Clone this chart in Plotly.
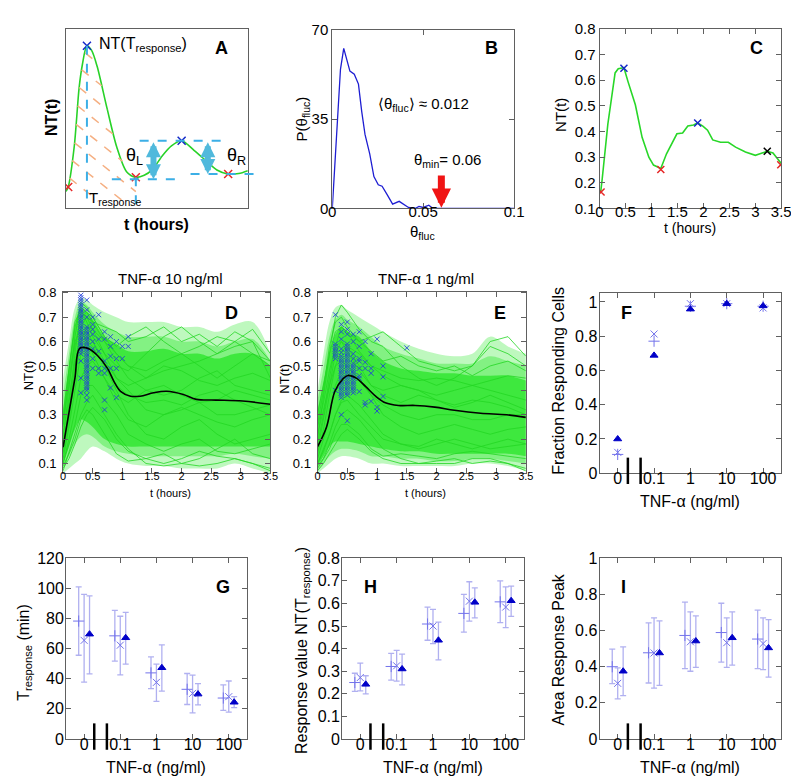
import numpy as np
import plotly.graph_objects as go

W, H = 799, 783
FONT = "Liberation Sans, Arial, Helvetica, sans-serif"

# ====================== DATA ======================
# Panel A: schematic single-cell trace (axis units 0..1)
a_t = [0.0, 0.012, 0.045, 0.072, 0.09, 0.115, 0.14, 0.171, 0.225, 0.279, 0.333, 0.384,
       0.43, 0.477, 0.53, 0.58, 0.636, 0.704, 0.776, 0.83, 0.892, 0.95, 1.0]
a_nt = [0.09, 0.115, 0.34, 0.67, 0.80, 0.905, 0.88, 0.79, 0.557, 0.338, 0.20, 0.169,
        0.18, 0.215, 0.29, 0.345, 0.373, 0.32, 0.256, 0.21, 0.187, 0.19, 0.206]
a_red_t = [0.012, 0.384, 0.892]
a_red_v = [0.115, 0.169, 0.187]
a_blue_t = [0.115, 0.636]
a_blue_v = [0.905, 0.373]

# Panel B: distribution of theta_fluc
b_theta = [0, 0.0031, 0.0045, 0.0063, 0.0079, 0.0097, 0.0121, 0.0144, 0.0162, 0.018, 0.0206,
           0.0229, 0.0253, 0.0274, 0.0301, 0.0332, 0.0368, 0.0392, 0.0419, 0.0455, 0.0477,
           0.05, 0.0531, 0.0554, 0.1]
b_p = [0, 36.7, 54.5, 62.7, 58.3, 53.8, 52.6, 48.7, 37.9, 29, 21.4, 12.5, 9.3, 8.7, 5.5,
       1.7, 2.8, 1.7, 0.4, 0, 0.8, 0.4, 1.3, 0, 0]
b_theta_min = 0.06

# Panel C: example cell
c_t = [0.02, 0.05, 0.16, 0.3, 0.36, 0.47, 0.55, 0.69, 0.82, 0.95, 1.04, 1.18, 1.29, 1.41, 1.49,
       1.6, 1.7, 1.81, 1.89, 1.99, 2.08, 2.18, 2.33, 2.48, 2.62, 2.81, 3.0, 3.09, 3.23, 3.34, 3.5]
c_nt = [0.161, 0.212, 0.428, 0.628, 0.644, 0.648, 0.593, 0.504, 0.377, 0.30, 0.269, 0.256,
        0.313, 0.357, 0.391, 0.394, 0.421, 0.425, 0.433, 0.421, 0.405, 0.367, 0.358, 0.358,
        0.339, 0.32, 0.307, 0.313, 0.323, 0.316, 0.275]
c_red_t = [0.03, 1.18, 3.49]
c_red_v = [0.164, 0.252, 0.27]
c_blue_t = [0.47, 1.89]
c_blue_v = [0.646, 0.433]
c_black_t = [3.23]
c_black_v = [0.323]

# Panels D / E: population traces
tr_t = [0, 0.1, 0.2, 0.3, 0.4, 0.5, 0.7, 0.9, 1.1, 1.4, 1.7, 2.0, 2.3, 2.6, 2.9, 3.2, 3.5]
d_outer_lo = [0.06, 0.08, 0.10, 0.12, 0.15, 0.17, 0.15, 0.12, 0.10, 0.09, 0.09, 0.08, 0.08, 0.08, 0.10, 0.08, 0.06]
d_outer_hi = [0.45, 0.60, 0.74, 0.78, 0.77, 0.75, 0.72, 0.70, 0.68, 0.68, 0.68, 0.66, 0.66, 0.64, 0.67, 0.68, 0.55]
d_mid_lo = [0.08, 0.13, 0.18, 0.21, 0.22, 0.21, 0.17, 0.15, 0.14, 0.13, 0.13, 0.13, 0.13, 0.13, 0.14, 0.13, 0.12]
d_mid_hi = [0.38, 0.55, 0.70, 0.76, 0.75, 0.72, 0.67, 0.64, 0.62, 0.62, 0.62, 0.60, 0.60, 0.58, 0.60, 0.61, 0.52]
d_core_lo = [0.10, 0.17, 0.24, 0.28, 0.27, 0.25, 0.20, 0.18, 0.17, 0.17, 0.17, 0.17, 0.17, 0.17, 0.17, 0.17, 0.17]
d_core_hi = [0.32, 0.50, 0.66, 0.74, 0.72, 0.69, 0.62, 0.59, 0.56, 0.56, 0.57, 0.55, 0.55, 0.53, 0.55, 0.55, 0.50]
d_cells = [
    [0.15, 0.35, 0.55, 0.72, 0.70, 0.65, 0.55, 0.45, 0.42, 0.45, 0.50, 0.48, 0.44, 0.42, 0.45, 0.47, 0.44],
    [0.10, 0.20, 0.32, 0.45, 0.50, 0.52, 0.45, 0.35, 0.28, 0.25, 0.30, 0.33, 0.30, 0.27, 0.25, 0.28, 0.30],
    [0.20, 0.40, 0.62, 0.76, 0.74, 0.70, 0.62, 0.58, 0.62, 0.66, 0.60, 0.55, 0.58, 0.62, 0.60, 0.55, 0.50],
    [0.08, 0.12, 0.18, 0.25, 0.30, 0.33, 0.28, 0.20, 0.15, 0.12, 0.10, 0.12, 0.15, 0.13, 0.12, 0.10, 0.08],
    [0.25, 0.45, 0.60, 0.65, 0.60, 0.55, 0.45, 0.38, 0.35, 0.40, 0.42, 0.38, 0.35, 0.36, 0.40, 0.38, 0.36],
    [0.12, 0.25, 0.40, 0.55, 0.60, 0.58, 0.50, 0.40, 0.30, 0.22, 0.20, 0.25, 0.28, 0.22, 0.18, 0.20, 0.22],
    [0.30, 0.50, 0.68, 0.73, 0.68, 0.62, 0.55, 0.50, 0.48, 0.55, 0.62, 0.66, 0.60, 0.55, 0.60, 0.65, 0.55],
    [0.07, 0.15, 0.22, 0.30, 0.35, 0.38, 0.30, 0.22, 0.16, 0.10, 0.09, 0.10, 0.09, 0.10, 0.12, 0.10, 0.07],
    [0.18, 0.30, 0.50, 0.66, 0.70, 0.68, 0.60, 0.52, 0.45, 0.40, 0.38, 0.40, 0.45, 0.48, 0.42, 0.40, 0.38],
    [0.22, 0.38, 0.52, 0.60, 0.62, 0.60, 0.52, 0.45, 0.40, 0.32, 0.30, 0.32, 0.35, 0.30, 0.30, 0.32, 0.34],
    [0.14, 0.28, 0.45, 0.60, 0.66, 0.65, 0.60, 0.55, 0.50, 0.48, 0.52, 0.55, 0.50, 0.45, 0.50, 0.55, 0.52],
    [0.10, 0.18, 0.26, 0.38, 0.42, 0.42, 0.36, 0.30, 0.22, 0.18, 0.15, 0.18, 0.20, 0.15, 0.14, 0.16, 0.18],
    [0.28, 0.42, 0.58, 0.70, 0.72, 0.70, 0.62, 0.55, 0.50, 0.45, 0.48, 0.50, 0.52, 0.55, 0.58, 0.60, 0.45],
    [0.16, 0.32, 0.50, 0.63, 0.64, 0.60, 0.50, 0.42, 0.38, 0.35, 0.36, 0.34, 0.38, 0.40, 0.36, 0.33, 0.30],
    [0.09, 0.14, 0.20, 0.28, 0.32, 0.30, 0.22, 0.14, 0.11, 0.12, 0.14, 0.10, 0.12, 0.16, 0.20, 0.14, 0.12],
    [0.26, 0.48, 0.66, 0.74, 0.72, 0.68, 0.66, 0.64, 0.60, 0.62, 0.66, 0.60, 0.63, 0.58, 0.64, 0.60, 0.52],
]
d_mean_t = [0, 0.1, 0.2, 0.28, 0.42, 0.58, 0.75, 0.86, 0.97, 1.14, 1.3, 1.53, 1.75, 2.03, 2.25, 2.58, 3.03, 3.5]
d_mean_v = [0.167, 0.31, 0.45, 0.572, 0.572, 0.543, 0.49, 0.436, 0.396, 0.376, 0.376, 0.39, 0.396, 0.383, 0.363, 0.36, 0.356, 0.343]
d_mark_times = [0.3, 0.4, 0.5, 0.6, 0.7, 0.8, 0.9, 1.0, 1.1]
d_mark_vals = [
    [0.79, 0.78, 0.77, 0.76, 0.75, 0.74, 0.73, 0.72, 0.71, 0.70, 0.69, 0.68, 0.67, 0.66, 0.65, 0.64,
     0.63, 0.62, 0.61, 0.60, 0.59, 0.58, 0.57, 0.56, 0.55, 0.52, 0.45, 0.39],
    [0.77, 0.73, 0.70, 0.66, 0.65, 0.64, 0.63, 0.62, 0.61, 0.60, 0.59, 0.58, 0.57, 0.56, 0.55, 0.54,
     0.53, 0.52, 0.51, 0.50, 0.49, 0.48, 0.47, 0.46, 0.45, 0.44, 0.43, 0.42, 0.41, 0.40, 0.38, 0.36],
    [0.70, 0.67, 0.65, 0.63, 0.60, 0.57, 0.53, 0.49],
    [0.71, 0.61, 0.56, 0.49, 0.47],
    [0.64, 0.61, 0.52, 0.49, 0.47, 0.36, 0.32],
    [0.62, 0.58, 0.54, 0.49, 0.41],
    [0.60, 0.53, 0.49, 0.37],
    [0.58, 0.53],
    [0.62, 0.58],
]

e_outer_lo = [0.06, 0.08, 0.10, 0.12, 0.13, 0.13, 0.12, 0.10, 0.10, 0.09, 0.09, 0.09, 0.09, 0.10, 0.10, 0.09, 0.07]
e_outer_hi = [0.40, 0.55, 0.68, 0.74, 0.75, 0.73, 0.70, 0.67, 0.64, 0.60, 0.57, 0.55, 0.54, 0.55, 0.62, 0.58, 0.55]
e_mid_lo = [0.07, 0.10, 0.13, 0.15, 0.16, 0.16, 0.15, 0.13, 0.13, 0.12, 0.12, 0.11, 0.11, 0.12, 0.12, 0.11, 0.10]
e_mid_hi = [0.36, 0.49, 0.62, 0.69, 0.71, 0.69, 0.66, 0.62, 0.58, 0.55, 0.53, 0.51, 0.51, 0.51, 0.54, 0.52, 0.50]
e_core_lo = [0.09, 0.13, 0.17, 0.19, 0.19, 0.19, 0.18, 0.17, 0.16, 0.15, 0.15, 0.14, 0.14, 0.14, 0.14, 0.14, 0.13]
e_core_hi = [0.32, 0.43, 0.55, 0.63, 0.66, 0.64, 0.62, 0.56, 0.52, 0.49, 0.48, 0.47, 0.47, 0.46, 0.46, 0.46, 0.44]
e_cells = [
    [0.15, 0.28, 0.42, 0.55, 0.60, 0.58, 0.50, 0.42, 0.38, 0.35, 0.38, 0.36, 0.33, 0.35, 0.38, 0.35, 0.32],
    [0.10, 0.15, 0.22, 0.30, 0.35, 0.36, 0.30, 0.25, 0.20, 0.18, 0.17, 0.20, 0.18, 0.16, 0.18, 0.20, 0.18],
    [0.20, 0.38, 0.55, 0.70, 0.75, 0.72, 0.65, 0.60, 0.58, 0.50, 0.45, 0.42, 0.45, 0.50, 0.58, 0.55, 0.50],
    [0.07, 0.10, 0.14, 0.18, 0.22, 0.24, 0.20, 0.15, 0.12, 0.10, 0.10, 0.11, 0.12, 0.10, 0.11, 0.10, 0.08],
    [0.25, 0.35, 0.48, 0.58, 0.60, 0.56, 0.48, 0.42, 0.40, 0.42, 0.40, 0.36, 0.34, 0.36, 0.35, 0.33, 0.30],
    [0.12, 0.20, 0.30, 0.42, 0.48, 0.50, 0.45, 0.38, 0.30, 0.25, 0.22, 0.24, 0.26, 0.24, 0.22, 0.24, 0.25],
    [0.30, 0.42, 0.55, 0.64, 0.66, 0.64, 0.60, 0.62, 0.64, 0.58, 0.52, 0.50, 0.48, 0.50, 0.60, 0.62, 0.54],
    [0.08, 0.12, 0.18, 0.25, 0.30, 0.32, 0.28, 0.22, 0.16, 0.12, 0.10, 0.10, 0.10, 0.12, 0.12, 0.10, 0.07],
    [0.18, 0.30, 0.45, 0.58, 0.66, 0.64, 0.56, 0.50, 0.46, 0.42, 0.40, 0.38, 0.40, 0.42, 0.40, 0.38, 0.36],
    [0.22, 0.32, 0.42, 0.50, 0.52, 0.50, 0.44, 0.38, 0.34, 0.30, 0.28, 0.30, 0.30, 0.28, 0.28, 0.30, 0.30],
    [0.14, 0.24, 0.38, 0.50, 0.56, 0.58, 0.55, 0.50, 0.48, 0.45, 0.44, 0.45, 0.44, 0.42, 0.44, 0.46, 0.45],
    [0.10, 0.16, 0.22, 0.30, 0.36, 0.38, 0.34, 0.28, 0.22, 0.18, 0.16, 0.18, 0.20, 0.18, 0.16, 0.17, 0.18],
    [0.26, 0.40, 0.58, 0.68, 0.70, 0.66, 0.60, 0.56, 0.52, 0.54, 0.50, 0.48, 0.50, 0.46, 0.50, 0.52, 0.48],
    [0.09, 0.12, 0.16, 0.22, 0.26, 0.26, 0.22, 0.16, 0.13, 0.14, 0.13, 0.12, 0.14, 0.15, 0.14, 0.13, 0.12],
]
e_mean_t = [0, 0.15, 0.29, 0.43, 0.51, 0.65, 0.81, 0.98, 1.14, 1.36, 1.64, 1.97, 2.3, 2.74, 3.18, 3.5]
e_mean_v = [0.169, 0.249, 0.395, 0.448, 0.461, 0.45, 0.415, 0.375, 0.349, 0.338, 0.338, 0.331, 0.318, 0.306, 0.30, 0.289]
e_mark_times = [0.3, 0.4, 0.5, 0.6, 0.7, 0.8, 0.9, 1.0, 1.1, 1.5]
e_mark_vals = [
    [0.71, 0.59, 0.58, 0.57, 0.56, 0.55, 0.54, 0.53, 0.40],
    [0.67, 0.64, 0.61, 0.57, 0.555, 0.54, 0.53, 0.52, 0.51, 0.50, 0.49, 0.48, 0.47, 0.46, 0.45,
     0.44, 0.43, 0.42, 0.41, 0.40, 0.39, 0.38, 0.37, 0.30],
    [0.68, 0.65, 0.63, 0.59, 0.58, 0.57, 0.56, 0.55, 0.54, 0.53, 0.52, 0.51, 0.50, 0.49, 0.48,
     0.47, 0.46, 0.45, 0.44, 0.43, 0.42, 0.41, 0.40, 0.39, 0.38, 0.275],
    [0.63, 0.60, 0.55, 0.53, 0.51, 0.50, 0.49, 0.48, 0.47, 0.46, 0.45, 0.44, 0.43, 0.42, 0.41, 0.40, 0.39],
    [0.64, 0.58, 0.53, 0.52, 0.49, 0.46, 0.45, 0.395],
    [0.60, 0.515, 0.49, 0.35, 0.34],
    [0.55, 0.49, 0.47, 0.355],
    [0.61, 0.33, 0.315],
    [0.50, 0.455, 0.375],
    [0.574],
]

# Panels F-I: dose response (categories 0, 0.1, 1, 10, 100 ng/ml)
doses = ["0", "0.1", "1", "10", "100"]
f_plus = [0.11, 0.771, 0.975, 0.99, 0.975]
f_x = [0.122, 0.813, 0.99, 0.99, 0.965]
f_tri = [0.20, 0.688, 0.958, 0.99, 0.977]

g_plus = [78.3, 68.5, 43.9, 33.0, 27.2]
g_plus_hi = [101.0, 85.4, 54.5, 43.5, 35.9]
g_plus_lo = [55.6, 51.7, 33.5, 22.9, 19.0]
g_x = [65.5, 62.3, 37.6, 30.3, 28.1]
g_x_hi = [96.0, 81.5, 49.7, 42.4, 38.5]
g_x_lo = [37.8, 42.6, 25.0, 17.3, 17.9]
g_tri = [69.6, 67.2, 47.3, 29.8, 24.4]
g_tri_hi = [95.0, 84.1, 62.5, 36.8, 28.1]
g_tri_lo = [43.3, 49.7, 31.8, 22.7, 20.8]

h_plus = [0.25, 0.321, 0.509, 0.556, 0.607]
h_plus_hi = [0.291, 0.379, 0.584, 0.64, 0.70]
h_plus_lo = [0.211, 0.261, 0.437, 0.473, 0.515]
h_x = [0.272, 0.324, 0.50, 0.61, 0.584]
h_x_hi = [0.336, 0.392, 0.574, 0.696, 0.673]
h_x_lo = [0.213, 0.256, 0.422, 0.522, 0.493]
h_tri = [0.242, 0.31, 0.437, 0.605, 0.612]
h_tri_hi = [0.28, 0.376, 0.517, 0.669, 0.677]
h_tri_lo = [0.20, 0.24, 0.35, 0.536, 0.543]

i_plus = [0.40, 0.477, 0.573, 0.589, 0.553]
i_plus_hi = [0.497, 0.643, 0.757, 0.751, 0.713]
i_plus_lo = [0.306, 0.31, 0.389, 0.425, 0.389]
i_x = [0.308, 0.476, 0.538, 0.533, 0.528]
i_x_hi = [0.393, 0.67, 0.703, 0.67, 0.67]
i_x_lo = [0.222, 0.281, 0.375, 0.396, 0.384]
i_tri = [0.375, 0.476, 0.542, 0.56, 0.504]
i_tri_hi = [0.51, 0.654, 0.681, 0.703, 0.661]
i_tri_lo = [0.24, 0.297, 0.396, 0.409, 0.342]

# ====================== LAYOUT HELPERS ======================
frames = {  # left, right, top, bottom in pixels
    1: (55, 240, 12, 195),
    2: (326, 511, 13, 196),
    3: (598, 783, 12, 196),
    4: (52, 263, 281, 467),
    5: (311, 523, 281, 467),
    6: (598, 783, 282, 467),
    7: (55, 239, 554, 739),
    8: (336, 521, 554, 739),
    9: (598, 783, 554, 739),
}


def P(px, py):
    return px / W, 1 - py / H


fig = go.Figure()
annotations = []
shapes = []
LINE = "#606060"


def axes(n, xr, yr, xt=None, yt=None, xfs=15, yfs=15, noticks=False, xso=-10, yso=0):
    l, r, t, b = frames[n]
    common = dict(showline=True, linecolor=LINE, linewidth=1, mirror="allticks",
                  ticks="" if noticks else "inside", ticklen=5, tickcolor=LINE,
                  showgrid=False, zeroline=False, fixedrange=True)
    xa = dict(common, domain=[l / W, r / W], range=xr, anchor="y%d" % n, ticklabelstandoff=xso,
              tickfont=dict(size=xfs, family=FONT, color="black"))
    ya = dict(common, domain=[1 - b / H, 1 - t / H], range=yr, anchor="x%d" % n, ticklabelstandoff=yso,
              tickfont=dict(size=yfs, family=FONT, color="black"))
    if noticks:
        xa["showticklabels"] = False
        ya["showticklabels"] = False
    if xt is not None:
        xa["tickvals"], xa["ticktext"] = xt
    if yt is not None:
        ya["tickvals"], ya["ticktext"] = yt
    k = "" if n == 1 else str(n)
    fig.layout["xaxis" + k] = xa
    fig.layout["yaxis" + k] = ya


def txt(px, py, s, size=15, angle=0, color="black", xanchor="center"):
    x, y = P(px, py)
    annotations.append(dict(x=x, y=y, xref="paper", yref="paper", text=s, showarrow=False,
                            textangle=angle, xanchor=xanchor, yanchor="middle",
                            font=dict(size=size, family=FONT, color=color)))


def ref(n):
    return ("x", "y") if n == 1 else ("x%d" % n, "y%d" % n)


def xmark(n, xs, ys, color, size=8, width=1.5):
    xa, ya = ref(n)
    fig.add_trace(go.Scatter(x=xs, y=ys, mode="markers", xaxis=xa, yaxis=ya,
                             marker=dict(symbol="x-thin", size=size, color=color,
                                         line=dict(width=width, color=color)),
                             hoverinfo="skip"))


# ====================== PANEL A ======================
axes(1, [0, 1], [0, 1], noticks=True)
CY = "rgb(60,175,230)"
hx = np.linspace(0, 0.384, 1500)
hc = np.interp(hx, a_t, a_nt)
for c in [0.95, 0.84, 0.73, 0.62, 0.51, 0.40, 0.29, 0.18]:
    ly = c - 0.81 * hx
    ok = (hc >= ly) & (ly >= 0.035)
    idx = np.where(ok)[0]
    if len(idx) == 0:
        continue
    i0 = idx[0]
    i1 = i0
    while i1 + 1 < len(hx) and ok[i1 + 1]:
        i1 += 1
    shapes.append(dict(type="line", xref="x", yref="y", x0=hx[i0], y0=ly[i0], x1=hx[i1], y1=ly[i1],
                       line=dict(color="rgb(245,175,130)", width=1.5, dash="dash")))
shapes.append(dict(type="line", xref="x", yref="y", x0=a_blue_t[0], x1=a_blue_t[0], y0=a_blue_v[0], y1=0.05,
                   line=dict(color=CY, width=2, dash="dash")))
shapes.append(dict(type="line", xref="x", yref="y", x0=a_red_t[1], x1=a_red_t[1], y0=a_red_v[1], y1=0.02,
                   line=dict(color=CY, width=2, dash="dash")))
shapes.append(dict(type="line", xref="x", yref="y", x0=0.405, x1=0.9, y0=a_blue_v[1], y1=a_blue_v[1],
                   line=dict(color=CY, width=2, dash="dash")))
shapes.append(dict(type="line", xref="x", yref="y", x0=0.252, x1=0.64, y0=0.158, y1=0.158,
                   line=dict(color=CY, width=2, dash="dash")))
l1, r1, t1, b1 = frames[1]
yy = 1 - (b1 - a_red_v[2] * (b1 - t1)) / H
shapes.append(dict(type="line", xref="paper", yref="paper",
                   x0=(l1 + 0.685 * (r1 - l1)) / W, x1=(l1 + 1.06 * (r1 - l1)) / W, y0=yy, y1=yy,
                   line=dict(color=CY, width=2, dash="dash")))
fig.add_trace(go.Scatter(x=a_t, y=a_nt, mode="lines", line=dict(color="rgb(40,210,40)", width=1.6,
                                                               shape="spline", smoothing=0.8),
                         xaxis="x", yaxis="y", hoverinfo="skip"))
xmark(1, a_red_t, a_red_v, "rgb(230,40,40)")
xmark(1, a_blue_t, a_blue_v, "rgb(20,40,200)")
for xa_, y0, y1 in [(0.481, 0.373, 0.158), (0.78, 0.373, 0.187)]:
    annotations.append(dict(x=xa_, y=y1, ax=xa_, ay=y0, xref="x", yref="y", axref="x", ayref="y",
                            text="", showarrow=True, arrowhead=2, arrowside="end+start",
                            arrowsize=0.5, arrowwidth=6, arrowcolor="rgb(80,185,220)"))
txt(133, 28, "NT(T<sub>response</sub>)", 16)
txt(213, 32, "<b>A</b>", 18)
txt(125, 143, "θ<sub>L</sub>", 18)
txt(228, 143, "θ<sub>R</sub>", 18)
txt(76, 186, "T<sub>response</sub>", 15, xanchor="left")
txt(40, 103, "<b>NT(t)</b>", 16, angle=-90)
txt(147, 212, "<b>t (hours)</b>", 16)

# ====================== PANEL B ======================
axes(2, [0, 0.1], [0, 70], xt=([0, 0.05, 0.1], ["0", "0.05", "0.1"]),
     yt=([0, 35, 70], ["0", "35", "70"]))
fig.add_trace(go.Scatter(x=b_theta, y=b_p, mode="lines", line=dict(color="rgb(30,30,210)", width=1.3),
                         xaxis="x2", yaxis="y2", hoverinfo="skip"))
annotations.append(dict(x=b_theta_min, y=0.3, ax=b_theta_min, ay=13.5, xref="x2", yref="y2",
                        axref="x2", ayref="y2", text="", showarrow=True, arrowhead=2,
                        arrowsize=0.55, arrowwidth=7, arrowcolor="rgb(240,20,20)"))
txt(419, 90, "⟨θ<sub>fluc</sub>⟩ ≈ 0.012", 15)
txt(443, 147, "θ<sub>min</sub>= 0.06", 15)
txt(488, 32, "<b>B</b>", 18)
txt(296, 104, "P(θ<sub>fluc</sub>)", 15, angle=-90)
txt(418, 221, "θ<sub>fluc</sub>", 15)

# ====================== PANEL C ======================
ct = [0, 0.5, 1, 1.5, 2, 2.5, 3, 3.5]
axes(3, [0, 3.5], [0.1, 0.8], xt=(ct, ["0", "0.5", "1", "1.5", "2", "2.5", "3", "3.5"]),
     yt=([0.1, 0.2, 0.3, 0.4, 0.5, 0.6, 0.7, 0.8], ["0.1", "0.2", "0.3", "0.4", "0.5", "0.6", "0.7", "0.8"]))
fig.add_trace(go.Scatter(x=c_t, y=c_nt, mode="lines", line=dict(color="rgb(40,215,40)", width=1.6),
                         xaxis="x3", yaxis="y3", hoverinfo="skip"))
xmark(3, c_red_t, c_red_v, "rgb(230,40,40)", size=7)
xmark(3, c_blue_t, c_blue_v, "rgb(20,40,200)", size=7)
xmark(3, c_black_t, c_black_v, "black", size=7)
txt(758, 32, "<b>C</b>", 18)
txt(558, 100, "NT(t)", 15, angle=-90)
txt(690, 216, "t (hours)", 14)

# ====================== PANELS D, E ======================
ytd = ([0.1, 0.2, 0.3, 0.4, 0.5, 0.6, 0.7, 0.8], ["0.1", "0.2", "0.3", "0.4", "0.5", "0.6", "0.7", "0.8"])
for n, olo, ohi, mlo, mhi, clo, chi, cells, mt, mv, mkt, mkv, title, lab in [
    (4, d_outer_lo, d_outer_hi, d_mid_lo, d_mid_hi, d_core_lo, d_core_hi, d_cells, d_mean_t, d_mean_v,
     d_mark_times, d_mark_vals, "TNF-α 10 ng/ml", "D"),
    (5, e_outer_lo, e_outer_hi, e_mid_lo, e_mid_hi, e_core_lo, e_core_hi, e_cells, e_mean_t, e_mean_v,
     e_mark_times, e_mark_vals, "TNF-α 1 ng/ml", "E")]:
    axes(n, [0, 3.5], [0.06, 0.805], xt=(ct, ["0", "0.5", "1", "1.5", "2", "2.5", "3", "3.5"]), yt=ytd,
         xfs=11, yfs=13, xso=-7, yso=3)
    xa, ya = ref(n)
    for lo_, hi_, fc in [(olo, ohi, "rgba(70,235,70,0.35)"), (mlo, mhi, "rgba(60,232,60,0.45)"),
                         (clo, chi, "rgba(50,230,50,0.85)")]:
        fig.add_trace(go.Scatter(x=tr_t, y=lo_, mode="lines", line=dict(width=0, shape="spline"),
                                 xaxis=xa, yaxis=ya, hoverinfo="skip"))
        fig.add_trace(go.Scatter(x=tr_t, y=hi_, mode="lines", line=dict(width=0, shape="spline"),
                                 fill="tonexty", fillcolor=fc, xaxis=xa, yaxis=ya, hoverinfo="skip"))
    for cell in cells:
        fig.add_trace(go.Scatter(x=tr_t, y=cell, mode="lines", line=dict(width=0.8, color="rgb(35,215,35)"),
                                 xaxis=xa, yaxis=ya, hoverinfo="skip"))
    for k, lst in enumerate(mkv):
        fig.add_trace(go.Scatter(x=[mkt[k]] * len(lst), y=lst, mode="markers", xaxis=xa, yaxis=ya,
                                 marker=dict(symbol="x-thin", size=5, color="rgba(30,60,220,0.85)",
                                             line=dict(width=1, color="rgba(30,60,220,0.85)")),
                                 hoverinfo="skip"))
    fig.add_trace(go.Scatter(x=mt, y=mv, mode="lines", line=dict(color="black", width=1.6, shape="spline"),
                             xaxis=xa, yaxis=ya, hoverinfo="skip"))
    l, r, t, b = frames[n]
    txt((l + r) / 2 + 4, 268, title, 15)
    txt(r - 40 if n == 4 else r - 26, 303, "<b>%s</b>" % lab, 18)
    txt((l + r) / 2 + 4, 487, "t (hours)", 11)
txt(17, 367, "NT(t)", 13, angle=-90)
txt(277, 370, "NT(t)", 13, angle=-90)

# ====================== PANELS F - I ======================
cats = [0, 1, 2, 3, 4]
LB = "rgb(115,115,235)"
DB = "rgb(0,0,200)"
EB = "rgba(150,150,235,0.75)"


def dose_axes(n, yr, yvals):
    axes(n, [-0.5, 4.5], yr, xt=(cats, doses), yt=(yvals, [("%g" % v) for v in yvals]), xfs=16, yfs=16,
         xso=-9, yso=-2)
    l, r, t, b = frames[n]
    for c in [0.28, 0.63]:
        px = l + (c + 0.5) / 5 * (r - l)
        shapes.append(dict(type="line", xref="paper", yref="paper", x0=px / W, x1=px / W,
                           y0=1 - (b + 11) / H, y1=1 - (b - 16) / H, line=dict(color="black", width=2.5)))
    txt((l + r) / 2, b + 29, "TNF-α (ng/ml)", 16)


def errseries(n, xs, c, hi, lo, symbol, color, size):
    xa, ya = ref(n)
    fig.add_trace(go.Scatter(
        x=xs, y=c, mode="markers", xaxis=xa, yaxis=ya, hoverinfo="skip",
        error_y=dict(type="data", symmetric=False,
                     array=[h - v for h, v in zip(hi, c)], arrayminus=[v - lo_ for v, lo_ in zip(c, lo)],
                     color=EB, thickness=1.3, width=3),
        marker=dict(symbol=symbol, size=size, color=color, line=dict(width=1, color=color))))


# F
dose_axes(6, [0, 1.055], [0, 0.2, 0.4, 0.6, 0.8, 1])
for vals, sym, col, sz in [(f_plus, "cross-thin", LB, 8), (f_x, "x-thin", LB, 7), (f_tri, "triangle-up", DB, 7)]:
    fig.add_trace(go.Scatter(x=cats, y=vals, mode="markers", xaxis="x6", yaxis="y6", hoverinfo="skip",
                             marker=dict(symbol=sym, size=sz, color=col, line=dict(width=1, color=col))))
txt(625, 303, "<b>F</b>", 18)
txt(556, 372, "Fraction Responding Cells", 16, angle=-90)

off = 0.15
for n, yr, yv, S, lab, lpos, ylab, ylpos in [
    (7, [0, 120], [0, 20, 40, 60, 80, 100, 120],
     [(g_plus, g_plus_hi, g_plus_lo), (g_x, g_x_hi, g_x_lo), (g_tri, g_tri_hi, g_tri_lo)],
     "G", (215, 583), "T<sub>response</sub> (min)", (12, 650)),
    (8, [0, 0.8], [0, 0.1, 0.2, 0.3, 0.4, 0.5, 0.6, 0.7, 0.8],
     [(h_plus, h_plus_hi, h_plus_lo), (h_x, h_x_hi, h_x_lo), (h_tri, h_tri_hi, h_tri_lo)],
     "H", (365, 583), "Response value NT(T<sub>response</sub>)", (295, 648)),
    (9, [0, 1], [0, 0.2, 0.4, 0.6, 0.8, 1],
     [(i_plus, i_plus_hi, i_plus_lo), (i_x, i_x_hi, i_x_lo), (i_tri, i_tri_hi, i_tri_lo)],
     "I", (622, 583), "Area Response Peak", (556, 647)),
]:
    dose_axes(n, yr, yv)
    (p, ph, pl), (xx, xh, xl), (tt, th, tl) = S
    errseries(n, [c - off for c in cats], p, ph, pl, "cross-thin", LB, 8)
    errseries(n, cats, xx, xh, xl, "x-thin", LB, 7)
    errseries(n, [c + off for c in cats], tt, th, tl, "triangle-up", DB, 7)
    txt(lpos[0], lpos[1], "<b>%s</b>" % lab, 18)
    txt(ylpos[0], ylpos[1], ylab, 16, angle=-90)

fig.update_layout(width=W, height=H, margin=dict(l=0, r=0, t=0, b=0), showlegend=False,
                  paper_bgcolor="white", plot_bgcolor="white",
                  annotations=annotations, shapes=shapes, font=dict(family=FONT, color="black"))
fig.write_html("out.html")
